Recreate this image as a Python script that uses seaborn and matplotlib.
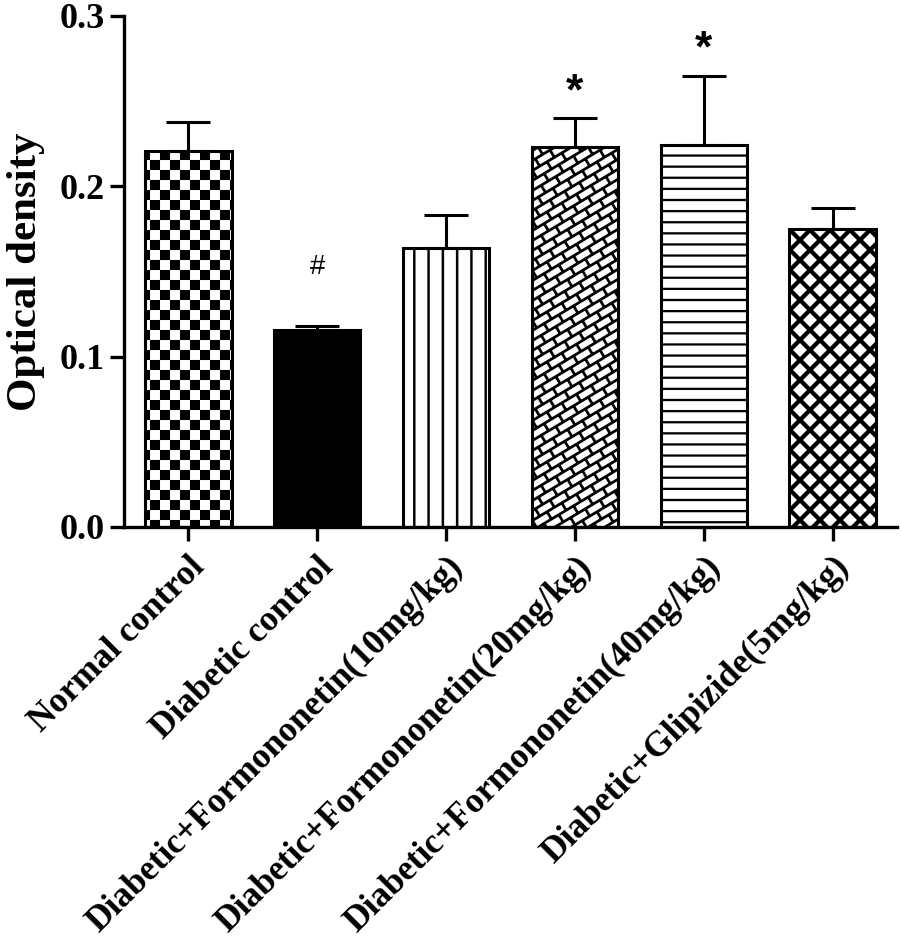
import warnings
import numpy as np
import pandas as pd
import matplotlib
matplotlib.use("Agg")
import matplotlib.pyplot as plt
import matplotlib.hatch as mhatch
from matplotlib.path import Path
import seaborn as sns

warnings.filterwarnings("ignore")

# data
groups = ["Normal control", "Diabetic control",
          "Diabetic+Formononetin(10mg/kg)", "Diabetic+Formononetin(20mg/kg)",
          "Diabetic+Formononetin(40mg/kg)", "Diabetic+Glipizide(5mg/kg)"]
density = [0.221, 0.1155, 0.1635, 0.223, 0.224, 0.175]
sem = [0.017, 0.0025, 0.0195, 0.017, 0.041, 0.012]
sig_marks = ["", "#", "", "*", "*", ""]

bar_colors = ["white", "black", "white", "white", "white", "white"]
bar_hatches = ["c", None, "v", "b", "h", "k"]


# ---- custom fill textures (checker, lines, bricks, heavy cross) ----
def band(p0, p1, w):
    p0 = np.asarray(p0, float)
    p1 = np.asarray(p1, float)
    d = p1 - p0
    n = np.array([-d[1], d[0]]) / np.hypot(*d) * w / 2
    return [p0 + n, p1 + n, p1 - n, p0 - n]


def checker_polys(n=10):
    c = 1.0 / n
    out = []
    for i in range(n):
        for j in range(n):
            if (i + j) % 2 == 0:
                x0, y0 = i * c, j * c
                out.append([(x0, y0), (x0 + c, y0), (x0 + c, y0 + c), (x0, y0 + c)])
    return out


def vline_polys(n=7, w=0.024):
    return [band((k / n, -0.1), (k / n, 1.1), w) for k in range(n + 1)]


def hline_polys(n=9, w=0.022):
    return [band((-0.1, k / n), (1.1, k / n), w) for k in range(n + 1)]


def cross_polys(n=5, w=0.042):
    out = []
    for k in range(-n - 1, n + 2):
        c = k / n
        out.append(band((-1, -1 + c), (2, 2 + c), w))
    for k in range(-1, 2 * n + 2):
        c = k / n
        out.append(band((-1, 1 + c), (2, -2 + c), w))
    return out


def brick_polys(p=5, q=3, N=2, M=1, w=0.027):
    s = p * p + q * q

    def pt(c, t):
        return ((q * c + p * t) / s, (q * t - p * c) / s)

    out = []
    for k in range(-p * N - 2, q * N + 3):
        c0, c1 = k / N, (k + 1) / N
        out.append(band(pt(c0, -1), pt(c0, p + q + 1), w))
        for j in range(-2, (p + q) * M + 3):
            t = (j + 0.5 * (k % 2)) / M
            out.append(band(pt(c0, t), pt(c1, t), w))
    return out


TEXTURES = {"c": checker_polys, "v": vline_polys, "h": hline_polys,
            "k": cross_polys, "b": brick_polys}


class PolyHatch(mhatch.HatchPatternBase):
    def __init__(self, hatch, density):
        self.polys = []
        for ch, fn in TEXTURES.items():
            if ch in hatch:
                self.polys += fn()
        self.num_vertices = sum(len(p) + 1 for p in self.polys)

    def set_vertices_and_codes(self, vertices, codes):
        i = 0
        for poly in self.polys:
            m = len(poly)
            vertices[i:i + m] = poly
            vertices[i + m] = poly[0]
            codes[i] = Path.MOVETO
            codes[i + 1:i + m] = Path.LINETO
            codes[i + m] = Path.CLOSEPOLY
            i += m + 1


mhatch._hatch_types.append(PolyHatch)

# ---- style ----
sns.set_style("ticks", {"axes.edgecolor": "black", "xtick.color": "black",
                        "ytick.color": "black", "text.color": "black",
                        "axes.labelcolor": "black"})
plt.rcParams["font.family"] = ["Liberation Serif", "DejaVu Serif"]
plt.rcParams["font.weight"] = "bold"
plt.rcParams["hatch.linewidth"] = 0.05
plt.rcParams["hatch.color"] = "black"

df = pd.DataFrame({"group": groups, "density": density})

fig, ax = plt.subplots(figsize=(9.01, 9.39), dpi=100)
fig.subplots_adjust(left=0.1376, right=0.9956, top=0.983, bottom=0.4388)

sns.barplot(data=df, x="group", y="density", hue="group",
            palette=dict(zip(groups, bar_colors)), order=groups,
            hue_order=groups, legend=False, errorbar=None, width=0.67,
            edgecolor="black", linewidth=2.2, ax=ax)

for patch, h in zip(ax.patches, bar_hatches):
    if h:
        patch.set_hatch(h)

xpos = np.arange(len(groups))
ax.errorbar(xpos, density, yerr=[np.zeros(len(sem)), sem], fmt="none",
            ecolor="black", elinewidth=2.2, capsize=16, capthick=2.2, zorder=1)

for x, m, e, mark in zip(xpos, density, sem, sig_marks):
    if not mark:
        continue
    if mark == "#":
        ax.text(x, m + e + 0.027, mark, ha="center", va="bottom", color="black",
                fontsize=20, fontweight="normal", family="Liberation Sans")
    else:
        ax.text(x, m + e + 0.003, mark, ha="center", va="bottom", color="black",
                fontsize=32, fontweight="bold", family="Liberation Sans")

ax.set_xlim(-0.5, 5.5)
ax.set_ylim(0, 0.3)
ax.set_yticks([0.0, 0.1, 0.2, 0.3])
ax.set_yticklabels(["0.0", "0.1", "0.2", "0.3"])
ax.set_xlabel("")
ax.set_ylabel("Optical density", fontsize=31, fontweight="bold", labelpad=10,
              color="black")

for side in ["top", "right"]:
    ax.spines[side].set_visible(False)
for side in ["left", "bottom"]:
    ax.spines[side].set_linewidth(2.4)

ax.tick_params(axis="both", width=2.4, length=10, pad=4)
ax.tick_params(axis="y", labelsize=26)
ax.tick_params(axis="x", labelsize=25.5, pad=7)
plt.setp(ax.get_xticklabels(), rotation=45, ha="right",
         rotation_mode="anchor", fontweight="bold")
plt.setp(ax.get_yticklabels(), fontweight="bold")

fig.savefig("out.png", dpi=100)
plt.close(fig)
